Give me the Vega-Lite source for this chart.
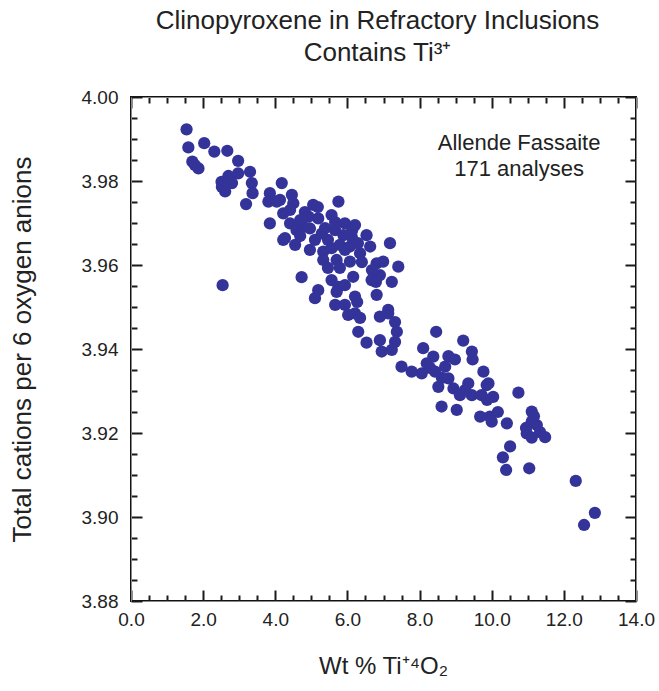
{
  "$schema": "https://vega.github.io/schema/vega-lite/v6.json",
  "width": 505,
  "height": 504,
  "autosize": {"type": "none"},
  "padding": {"left": 131, "top": 97, "right": 23, "bottom": 90},
  "background": "white",
  "config": {"view": {"stroke": "#111111", "strokeWidth": 2}, "font": "Liberation Sans"},
  "title": {
    "text": ["Clinopyroxene in Refractory Inclusions", "Contains Ti³⁺"],
    "fontSize": 26,
    "font": "Liberation Sans",
    "fontWeight": "normal",
    "color": "#222222",
    "anchor": "middle",
    "lineHeight": 32,
    "offset": 22,
    "dx": -6
  },
  "datasets": {
    "pts": [
      {"x":1.54,"y":3.9923},{"x":1.59,"y":3.9880},{"x":2.03,"y":3.9890},{"x":2.31,"y":3.9870},{"x":2.67,"y":3.9872},
      {"x":1.70,"y":3.9846},{"x":1.87,"y":3.9830},{"x":1.77,"y":3.9838},{"x":2.97,"y":3.9848},{"x":2.97,"y":3.9818},
      {"x":3.30,"y":3.9822},{"x":2.70,"y":3.9812},{"x":2.51,"y":3.9798},{"x":2.52,"y":3.9786},{"x":2.61,"y":3.9775},
      {"x":3.35,"y":3.9795},{"x":3.37,"y":3.9771},{"x":3.19,"y":3.9745},{"x":2.54,"y":3.9552},{"x":4.18,"y":3.9795},
      {"x":3.85,"y":3.9771},{"x":3.81,"y":3.9751},{"x":4.13,"y":3.9755},{"x":4.46,"y":3.9767},{"x":4.50,"y":3.9747},
      {"x":4.04,"y":3.9751},{"x":4.22,"y":3.9723},{"x":3.85,"y":3.9699},{"x":4.41,"y":3.9699},{"x":4.27,"y":3.9664},
      {"x":4.59,"y":3.9683},{"x":4.92,"y":3.9715},{"x":4.96,"y":3.9687},{"x":5.05,"y":3.9743},{"x":5.75,"y":3.9751},
      {"x":5.56,"y":3.9719},{"x":5.19,"y":3.9711},{"x":4.78,"y":3.9691},{"x":5.29,"y":3.9675},{"x":5.93,"y":3.9699},
      {"x":6.21,"y":3.9695},{"x":5.89,"y":3.9671},{"x":6.12,"y":3.9667},{"x":6.53,"y":3.9671},{"x":6.63,"y":3.9644},
      {"x":6.35,"y":3.9628},{"x":6.07,"y":3.9644},{"x":7.18,"y":3.9652},{"x":4.22,"y":3.9660},{"x":4.55,"y":3.9648},
      {"x":4.96,"y":3.9636},{"x":5.33,"y":3.9632},{"x":5.56,"y":3.9640},{"x":5.70,"y":3.9612},{"x":6.07,"y":3.9608},
      {"x":5.33,"y":3.9612},{"x":6.16,"y":3.9572},{"x":5.56,"y":3.9564},{"x":5.75,"y":3.9548},{"x":4.73,"y":3.9571},
      {"x":5.19,"y":3.9540},{"x":5.10,"y":3.9521},{"x":6.81,"y":3.9604},{"x":6.99,"y":3.9608},{"x":7.41,"y":3.9596},
      {"x":6.67,"y":3.9564},{"x":6.90,"y":3.9576},{"x":7.23,"y":3.9560},{"x":6.81,"y":3.9529},{"x":6.21,"y":3.9525},
      {"x":5.66,"y":3.9505},{"x":7.13,"y":3.9493},{"x":5.70,"y":3.9536},{"x":5.93,"y":3.9505},{"x":6.02,"y":3.9481},
      {"x":6.21,"y":3.9485},{"x":6.30,"y":3.9441},{"x":6.53,"y":3.9415},{"x":6.90,"y":3.9477},{"x":7.13,"y":3.9485},
      {"x":7.37,"y":3.9441},{"x":6.90,"y":3.9421},{"x":6.95,"y":3.9394},{"x":7.32,"y":3.9417},{"x":7.23,"y":3.9398},
      {"x":8.46,"y":3.9441},{"x":8.10,"y":3.9402},{"x":9.21,"y":3.9420},{"x":9.45,"y":3.9394},{"x":9.47,"y":3.9375},
      {"x":7.50,"y":3.9358},{"x":7.78,"y":3.9346},{"x":8.06,"y":3.9342},{"x":8.20,"y":3.9366},{"x":8.38,"y":3.9382},
      {"x":8.43,"y":3.9346},{"x":8.80,"y":3.9383},{"x":8.98,"y":3.9375},{"x":8.71,"y":3.9358},{"x":8.80,"y":3.9330},
      {"x":8.52,"y":3.9310},{"x":8.94,"y":3.9306},{"x":9.35,"y":3.9318},{"x":9.77,"y":3.9346},{"x":9.91,"y":3.9318},
      {"x":9.12,"y":3.9290},{"x":9.45,"y":3.9290},{"x":9.72,"y":3.9290},{"x":10.04,"y":3.9286},{"x":8.61,"y":3.9263},
      {"x":9.03,"y":3.9255},{"x":10.74,"y":3.9296},{"x":9.68,"y":3.9239},{"x":9.95,"y":3.9239},{"x":10.00,"y":3.9227},
      {"x":10.42,"y":3.9223},{"x":11.11,"y":3.9251},{"x":11.11,"y":3.9227},{"x":11.25,"y":3.9219},{"x":10.97,"y":3.9199},
      {"x":11.11,"y":3.9189},{"x":11.48,"y":3.9190},{"x":10.51,"y":3.9168},{"x":10.31,"y":3.9142},{"x":10.40,"y":3.9112},
      {"x":11.04,"y":3.9116},{"x":12.33,"y":3.9086},{"x":12.86,"y":3.9010},{"x":12.56,"y":3.8981},{"x":9.86,"y":3.9314},
      {"x":4.69,"y":3.9669},{"x":5.10,"y":3.9660},{"x":5.46,"y":3.9660},{"x":5.79,"y":3.9648},{"x":4.82,"y":3.9726},
      {"x":5.38,"y":3.9688},{"x":5.66,"y":3.9683},{"x":5.93,"y":3.9636},{"x":6.29,"y":3.9652},{"x":6.40,"y":3.9607},
      {"x":5.79,"y":3.9593},{"x":5.46,"y":3.9593},{"x":5.93,"y":3.9552},{"x":6.68,"y":3.9588},{"x":6.35,"y":3.9474},
      {"x":8.29,"y":3.9355},{"x":8.62,"y":3.9331},{"x":9.26,"y":3.9302},{"x":10.17,"y":3.9250},{"x":10.95,"y":3.9212},
      {"x":11.34,"y":3.9202},{"x":4.41,"y":3.9731},{"x":2.80,"y":3.9795},{"x":6.27,"y":3.9512},{"x":7.32,"y":3.9464},
      {"x":5.18,"y":3.9738},{"x":4.69,"y":3.9707},{"x":6.13,"y":3.9683},{"x":5.66,"y":3.9702},{"x":6.79,"y":3.9560},
      {"x":9.87,"y":3.9279},{"x":11.17,"y":3.9240}
    ],
    "note": [
      {"x": 10.76, "y": 3.9891, "label": "Allende Fassaite"},
      {"x": 10.76, "y": 3.9829, "label": "171 analyses"}
    ]
  },
  "layer": [
    {
      "data": {"name": "pts"},
      "mark": {"type": "circle", "size": 150, "color": "#333399", "opacity": 1},
      "encoding": {
        "x": {"field": "x", "type": "quantitative",
          "scale": {"domain": [0, 14], "nice": false, "zero": false},
          "axis": {"orient": "bottom", "grid": false,
            "values": [0,0.5,1,1.5,2,2.5,3,3.5,4,4.5,5,5.5,6,6.5,7,7.5,8,8.5,9,9.5,10,10.5,11,11.5,12,12.5,13,13.5,14],
            "labelExpr": "datum.value % 2 === 0 ? format(datum.value, '.1f') : ''",
            "tickSize": {"condition": {"test": "datum.value % 2 === 0", "value": -11}, "value": -6},
            "tickColor": "#1a1a1a", "tickWidth": 2,
            "labelPadding": 20, "labelFontSize": 19, "labelFont": "Liberation Sans", "labelColor": "#222222",
            "labelFlush": false, "labelOverlap": false,
            "title": "Wt % Ti⁺⁴O₂", "titleFontSize": 24, "titleFontWeight": "normal", "titleFont": "Liberation Sans",
            "titleColor": "#222222", "titleX": 252, "titleY": 72, "titleBaseline": "alphabetic"}},
        "y": {"field": "y", "type": "quantitative",
          "scale": {"domain": [3.88, 4.0], "nice": false, "zero": false},
          "axis": {"orient": "left", "grid": false,
            "values": [3.88,3.885,3.89,3.895,3.9,3.905,3.91,3.915,3.92,3.925,3.93,3.935,3.94,3.945,3.95,3.955,3.96,3.965,3.97,3.975,3.98,3.985,3.99,3.995,4.0],
            "labelExpr": "round(datum.value * 1000) % 20 === 0 ? format(datum.value, '.2f') : ''",
            "tickSize": {"condition": {"test": "round(datum.value * 1000) % 20 === 0", "value": -11}, "value": -6},
            "tickColor": "#1a1a1a", "tickWidth": 2,
            "labelPadding": 24, "labelFontSize": 19, "labelFont": "Liberation Sans", "labelColor": "#222222",
            "labelFlush": false, "labelOverlap": false,
            "title": "Total cations per 6 oxygen anions", "titleFontSize": 26, "titleFontWeight": "normal",
            "titleFont": "Liberation Sans", "titleColor": "#222222",
            "titleX": -109, "titleY": 252, "titleAngle": -90, "titleBaseline": "middle", "titleAlign": "center"}}
      }
    },
    {
      "data": {"name": "note"},
      "mark": {"type": "text", "fontSize": 22, "font": "Liberation Sans", "color": "#222222", "align": "center", "baseline": "middle"},
      "encoding": {
        "x": {"field": "x", "type": "quantitative",
          "scale": {"domain": [0, 14], "nice": false, "zero": false},
          "axis": {"orient": "top", "grid": false, "labels": false, "title": null,
            "values": [0,0.5,1,1.5,2,2.5,3,3.5,4,4.5,5,5.5,6,6.5,7,7.5,8,8.5,9,9.5,10,10.5,11,11.5,12,12.5,13,13.5,14],
            "tickSize": {"condition": {"test": "datum.value % 2 === 0", "value": -11}, "value": -6},
            "tickColor": "#1a1a1a", "tickWidth": 2}},
        "y": {"field": "y", "type": "quantitative",
          "scale": {"domain": [3.88, 4.0], "nice": false, "zero": false},
          "axis": {"orient": "right", "grid": false, "labels": false, "title": null,
            "values": [3.88,3.885,3.89,3.895,3.9,3.905,3.91,3.915,3.92,3.925,3.93,3.935,3.94,3.945,3.95,3.955,3.96,3.965,3.97,3.975,3.98,3.985,3.99,3.995,4.0],
            "tickSize": {"condition": {"test": "round(datum.value * 1000) % 20 === 0", "value": -11}, "value": -6},
            "tickColor": "#1a1a1a", "tickWidth": 2}},
        "text": {"field": "label", "type": "nominal"}
      }
    }
  ],
  "resolve": {"axis": {"x": "independent", "y": "independent"}}
}
